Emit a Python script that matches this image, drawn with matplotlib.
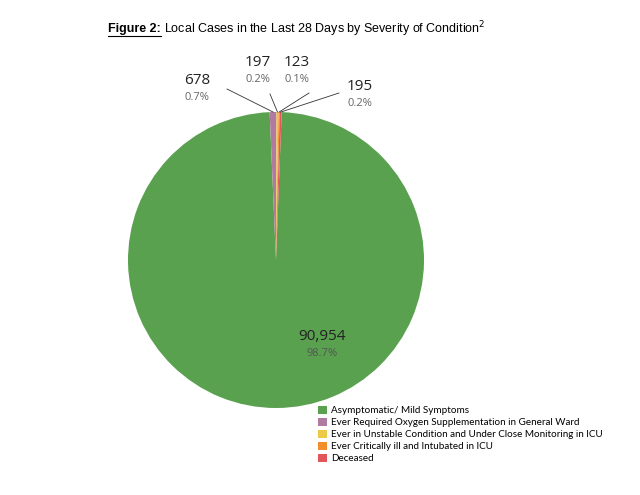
import matplotlib
matplotlib.use("Agg")
import matplotlib.pyplot as plt
from matplotlib.patches import Patch
import math

categories = ["Asymptomatic/ Mild Symptoms",
              "Ever Required Oxygen Supplementation in General Ward",
              "Ever in Unstable Condition and Under Close Monitoring in ICU",
              "Ever Critically ill and Intubated in ICU",
              "Deceased"]
values = [90954, 678, 197, 123, 195]
pct_labels = ["98.7%", "0.7%", "0.2%", "0.1%", "0.2%"]
colors = ["#59a14f", "#b07aa1", "#edc948", "#f28e2b", "#e15759"]

W, H = 640, 495
fig = plt.figure(figsize=(6.4, 4.95), dpi=100)
cx, cy, R = 276, 260, 148
ax = fig.add_axes([(cx - R) / W, (H - cy - R) / H, 2 * R / W, 2 * R / H])
wedges, _ = ax.pie(values, colors=colors, startangle=87.8, counterclock=False,
                   radius=1, wedgeprops=dict(linewidth=0))
ax.set_xlim(-1, 1); ax.set_ylim(-1, 1); ax.set_aspect("auto")
ax.axis("off")

def px(x, y):
    return ((x - cx) / R, (cy - y) / R)

font = "Open Sans"
ax.text(*px(322, 336), f"{values[0]:,}", ha="center", va="center", fontsize=11, family=font, color="#222")
ax.text(*px(322, 353), pct_labels[0], ha="center", va="center", fontsize=8, family=font, color="#555")

pos = [(197, 80, 227, 89), (258, 62, 270, 94), (297, 62, 309, 93), (360, 86, 339, 93)]
for i, (tx, ty, lx, ly) in enumerate(pos, start=1):
    w = wedges[i]
    mid = math.radians((w.theta1 + w.theta2) / 2)
    ax.plot([px(lx, ly)[0], math.cos(mid)], [px(lx, ly)[1], math.sin(mid)],
            color="#333", lw=0.6, clip_on=False)
    ax.text(*px(tx, ty), f"{values[i]:,}", ha="center", va="center", fontsize=11, family=font, color="#222", clip_on=False)
    ax.text(*px(tx, ty + 17), pct_labels[i], ha="center", va="center", fontsize=8, family=font, color="#666", clip_on=False)

fig.canvas.draw()
r = fig.canvas.get_renderer()
t1 = fig.text(108 / W, 1 - 29 / H, "Figure 2:", fontsize=9, fontweight="bold", family="Liberation Sans", va="center")
bb = t1.get_window_extent(r)
fig.add_artist(plt.Line2D([bb.x0 / W, bb.x1 / W], [(bb.y0 - 1) / H] * 2, color="black", lw=0.8))
fig.text(bb.x1 / W + 3 / W, 1 - 29 / H, "Local Cases in the Last 28 Days by Severity of Condition$^2$",
         fontsize=9, family="Liberation Sans", va="center")

handles = [Patch(facecolor=c, edgecolor="none") for c in colors]
fig.legend(handles, categories, loc="upper left", bbox_to_anchor=(318 / W, 1 - 406 / H),
           frameon=False, prop={"family": "Lato", "size": 7.1}, handlelength=0.9, handleheight=0.9,
           handletextpad=0.4, labelspacing=0.25, borderpad=0, borderaxespad=0)
fig.savefig("out.png", dpi=100)
